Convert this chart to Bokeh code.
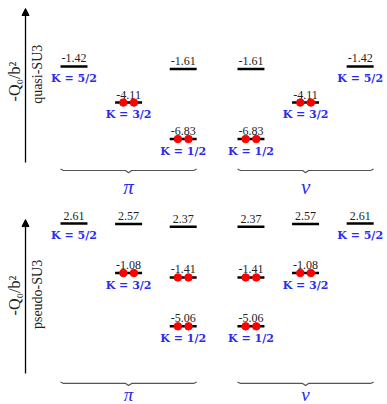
import math
from bokeh.plotting import figure
from bokeh.models import Range1d, ColumnDataSource, Arrow, NormalHead
from bokeh.core.properties import value
from bokeh.embed import file_html
from bokeh.resources import INLINE

# ---------------- data ----------------
panel_names = ["quasi-SU3", "pseudo-SU3"]
axis_label = "-Q\u2080/b\u00b2"
side_names = ["\u03c0", "\u03bd"]

# quasi-SU3, protons
pi_quasi_cols = [0, 1, 2, 2]
pi_quasi_vals = [-1.42, -4.11, -1.61, -6.83]
pi_quasi_K = ["5/2", "3/2", "", "1/2"]
pi_quasi_occ = [0, 1, 0, 1]
# quasi-SU3, neutrons
nu_quasi_cols = [0, 0, 1, 2]
nu_quasi_vals = [-1.61, -6.83, -4.11, -1.42]
nu_quasi_K = ["", "1/2", "3/2", "5/2"]
nu_quasi_occ = [0, 1, 1, 0]
# pseudo-SU3, protons
pi_pseudo_cols = [0, 1, 1, 2, 2, 2]
pi_pseudo_vals = [2.61, 2.57, -1.08, 2.37, -1.41, -5.06]
pi_pseudo_K = ["5/2", "", "3/2", "", "", "1/2"]
pi_pseudo_occ = [0, 0, 1, 0, 1, 1]
# pseudo-SU3, neutrons
nu_pseudo_cols = [0, 0, 0, 1, 1, 2]
nu_pseudo_vals = [2.37, -1.41, -5.06, 2.57, -1.08, 2.61]
nu_pseudo_K = ["", "", "1/2", "", "3/2", "5/2"]
nu_pseudo_occ = [0, 1, 1, 0, 1, 0]

# ---------------- layout ----------------
W, H = 387, 404
XU, YU = 54.6, 13.4              # px per data unit
XMIN = -73.5 / XU
YMAX = 47.0 / YU
NU_START = 3.241                 # x of first neutron column
PANEL_OFF = [0.0, -15.75]        # vertical offset of each panel
HALF = 0.247                     # half length of a level line
DOT = 0.097                      # dot offset from line centre

p = figure(width=W, height=H, output_backend="svg", toolbar_location=None,
           x_range=Range1d(XMIN, XMIN + W / XU),
           y_range=Range1d(YMAX - H / YU, YMAX),
           x_axis_type=None, y_axis_type=None, min_border=0,
           outline_line_color=None, background_fill_color="white",
           border_fill_color="white")
p.grid.visible = False

SERIF = value("Liberation Serif")
BLUE = "#2b2bf0"

groups = [
    (0, 0, pi_quasi_cols, pi_quasi_vals, pi_quasi_K, pi_quasi_occ),
    (0, 1, nu_quasi_cols, nu_quasi_vals, nu_quasi_K, nu_quasi_occ),
    (1, 0, pi_pseudo_cols, pi_pseudo_vals, pi_pseudo_K, pi_pseudo_occ),
    (1, 1, nu_pseudo_cols, nu_pseudo_vals, nu_pseudo_K, nu_pseudo_occ),
]

lx, ly, lt, kx, ky, kt, dx, dy = [], [], [], [], [], [], [], []
for panel, side, cols, vals, ks, occ in groups:
    base = 0.0 if side == 0 else NU_START
    for c, v, k, o in zip(cols, vals, ks, occ):
        x = base + c
        y = v + PANEL_OFF[panel]
        lx.append(x); ly.append(y); lt.append(f"{v:.2f}")
        if k:
            kx.append(x); ky.append(y - 0.9); kt.append(f"K = {k}")
        if o:
            dx += [x - DOT, x + DOT]; dy += [y, y]

src = ColumnDataSource(dict(x=lx, y=ly, x0=[a - HALF for a in lx],
                            x1=[a + HALF for a in lx], t=lt,
                            ty=[b + 0.6 for b in ly]))
p.segment(x0="x0", x1="x1", y0="y", y1="y", source=src,
          line_color="black", line_width=2.5, line_cap="butt")
p.text(x="x", y="ty", text="t", source=src, text_font=SERIF,
       text_font_size="12px", text_align="center",
       text_baseline="middle", text_color="#222222")
p.text(x=kx, y=ky, text=kt, text_font=value("DejaVu Serif"),
       text_font_style="bold", text_font_size="11px", text_align="center",
       text_baseline="middle", text_color=BLUE)
p.scatter(x=dx, y=dy, marker="circle", size=7.5, fill_color="#ff0000",
          line_color="#ff0000")

brace_y = [-9.18, -9.32]
side_lbl_y = [-10.4, -10.17]
axis_lbl_y = [-2.54, -2.76]
name_lbl_y = [-2.0, -2.68]
for panel in range(2):
    off = PANEL_OFF[panel]
    # vertical arrow
    p.add_layout(Arrow(end=NormalHead(size=7, fill_color="black",
                                      line_color="black"),
                       x_start=-0.888, y_start=-8.58 + off,
                       x_end=-0.888, y_end=2.91 + off,
                       line_width=1.3, line_color="black"))
    p.text(x=[-1.09], y=[axis_lbl_y[panel] + off], text=[axis_label],
           angle=math.pi / 2, text_font=SERIF, text_font_size="16px",
           text_align="center", text_baseline="middle",
           text_color="#222222")
    p.text(x=[-0.668], y=[name_lbl_y[panel] + off], text=[panel_names[panel]],
           angle=math.pi / 2, text_font=SERIF, text_font_size="14px",
           text_align="center", text_baseline="middle", text_color="#222222")
    for side in range(2):
        base = 0.0 if side == 0 else NU_START
        a, b = base - HALF, base + 2 + HALF
        m = (a + b) / 2
        yb = brace_y[panel] + off
        d, e, e2 = 0.055, 0.11, 0.16
        p.line(x=[a, a + d, m - d, m, m + d, b - d, b],
               y=[yb + e, yb, yb, yb - e2, yb, yb, yb + e],
               line_color="#555555", line_width=1.2)
        p.text(x=[base + 1], y=[side_lbl_y[panel] + off],
               text=[side_names[side]], text_font=SERIF,
               text_font_style="italic",
               text_font_size="21px" if panel == 0 else "19px",
               text_align="center", text_baseline="middle",
               text_color=BLUE)

open("out.html", "w").write(file_html(p, INLINE))
